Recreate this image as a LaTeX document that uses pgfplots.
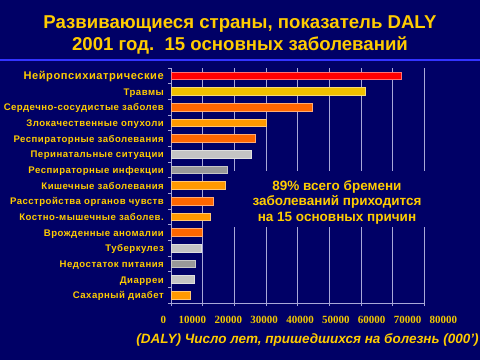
\documentclass[border=0pt]{standalone}
\usepackage{pgfplots}
\pgfplotsset{compat=1.18}
\usepackage{fontspec}
\setmainfont{Liberation Sans}
\newfontfamily\tnr{Liberation Serif}
\newfontfamily\lsf{Liberation Sans}[LetterSpace=5]
\definecolor{bg}{HTML}{000066}
\definecolor{gold}{HTML}{FFCC00}
\definecolor{tickc}{HTML}{F2C800}
\definecolor{sepc}{HTML}{3333FF}
\definecolor{gridc}{HTML}{A8A8D8}
\definecolor{cred}{HTML}{FF0000}
\definecolor{cyel}{HTML}{F0C000}
\definecolor{cdor}{HTML}{FF6600}
\definecolor{cor}{HTML}{FF9900}
\definecolor{clg}{HTML}{C4C4C4}
\definecolor{cdg}{HTML}{999999}
\begin{document}
\begin{tikzpicture}
\path[use as bounding box] (0,0) rectangle (480pt,360pt);
\fill[bg] (0,0) rectangle (480pt,360pt);
\draw[sepc, line width=1.5pt] (0,300pt) -- (480pt,300pt);
\node[anchor=base, text=gold, font=\bfseries\fontsize{18.6}{21.7}\selectfont] at (240pt,331.7pt) {Развивающиеся страны, показатель DALY};
\node[anchor=base, text=gold, font=\bfseries\fontsize{18.6}{21.7}\selectfont] at (240pt,310pt) {2001 год.\ \ 15 основных заболеваний};
\begin{axis}[
  at={(171pt,57pt)}, anchor=south west,
  scale only axis, width=253.3pt, height=235pt,
  xmin=0, xmax=80000, ymin=-0.5, ymax=14.5,
  xbar, bar width=7.5pt, bar shift=0pt,
  axis x line=bottom, axis y line=left,
  axis line style={-, draw=gridc, line width=0.8pt},
  xtick={0,10000,...,80000}, ytick={0,...,14},
  yticklabels={Сахарный диабет, Диарреи, Недостаток питания, Туберкулез, Врожденные аномалии, Костно-мышечные заболев., Расстройства органов чувств, Кишечные заболевания, Респираторные инфекции, Перинатальные ситуации, Респираторные заболевания, Злокачественные опухоли, Сердечно-сосудистые заболев, Травмы, {\fontsize{11.1}{12}\selectfont Нейропсихиатрические}},
  xmajorgrids, grid style={gridc, line width=0.6pt},
  tick align=outside, major tick length=3pt,
  y tick style={draw=none},
  minor ytick={-0.5,0.5,...,14.5}, minor y tick style={draw=gridc, line width=0.6pt}, minor tick length=3pt,
  x tick style={draw=gridc, line width=0.6pt},
  scaled x ticks=false,
  /pgf/number format/assume math mode=true,
  xticklabel={\pgfmathsetmacro\sh{\ticknum==0 ? -7.7 : -14.35+4.18*\ticknum}\makebox[0pt][l]{\kern\sh pt\makebox[0pt][c]{\pgfmathprintnumber[fixed,precision=0,1000 sep={}]{\tick}}}},
  xticklabel style={font=\tnr\bfseries\fontsize{11}{12}\selectfont, text=tickc, anchor=base, yshift=-17pt},
  yticklabel style={font=\lsf\bfseries\fontsize{9.6}{11}\selectfont, text=gold, anchor=east, inner sep=0pt, xshift=-4pt, text height=7pt, text depth=0pt},
]
\addplot[fill=cred, draw=cred!55!white, line width=0.6pt] coordinates {(72700,14)};
\addplot[fill=cyel, draw=cyel!55!white, line width=0.6pt] coordinates {(61500,13)};
\addplot[fill=cdor, draw=cdor!55!white, line width=0.6pt] coordinates {(44500,12)};
\addplot[fill=cor, draw=cor!55!white, line width=0.6pt] coordinates {(30000,11)};
\addplot[fill=cdor, draw=cdor!55!white, line width=0.6pt] coordinates {(26500,10)};
\addplot[fill=clg, draw=clg!55!white, line width=0.6pt] coordinates {(25500,9)};
\addplot[fill=cdg, draw=cdg!55!white, line width=0.6pt] coordinates {(17700,8)};
\addplot[fill=cor, draw=cor!55!white, line width=0.6pt] coordinates {(17000,7)};
\addplot[fill=cdor, draw=cdor!55!white, line width=0.6pt] coordinates {(13500,6)};
\addplot[fill=cor, draw=cor!55!white, line width=0.6pt] coordinates {(12300,5)};
\addplot[fill=cdor, draw=cdor!55!white, line width=0.6pt] coordinates {(10000,4)};
\addplot[fill=clg, draw=clg!55!white, line width=0.6pt] coordinates {(9700,3)};
\addplot[fill=cdg, draw=cdg!55!white, line width=0.6pt] coordinates {(7600,2)};
\addplot[fill=clg, draw=clg!55!white, line width=0.6pt] coordinates {(7300,1)};
\addplot[fill=cor, draw=cor!55!white, line width=0.6pt] coordinates {(6200,0)};
\end{axis}
\fill[bg] (229pt,133pt) rectangle (445pt,189pt);
\node[anchor=base, text=gold, font=\bfseries\fontsize{13.5}{16}\selectfont] at (337pt,170pt) {89\% всего бремени};
\node[anchor=base, text=gold, font=\bfseries\fontsize{13.5}{16}\selectfont] at (337pt,154.3pt) {заболеваний приходится};
\node[anchor=base, text=gold, font=\bfseries\fontsize{13.5}{16}\selectfont] at (337pt,138.3pt) {на 15 основных причин};
\node[anchor=base, text=gold, font=\bfseries\itshape\fontsize{13.5}{16}\selectfont] at (307.5pt,17pt) {(DALY) Число лет, пришедшихся на болезнь (000’)};
\end{tikzpicture}
\end{document}
